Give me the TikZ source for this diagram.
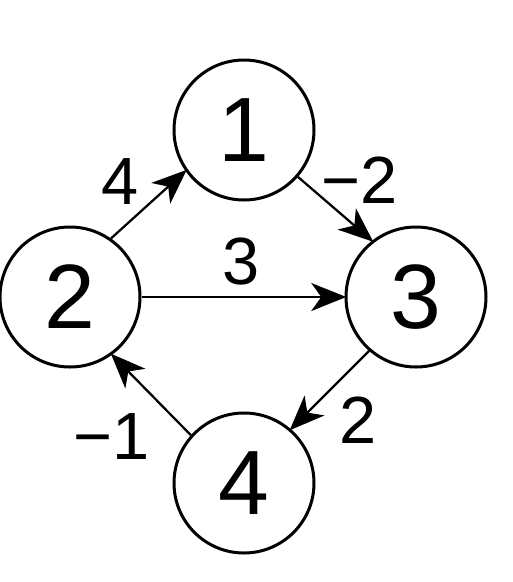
\documentclass[tikz,border=0pt]{standalone}
\usepackage{fontspec}
\setmainfont{Liberation Sans}
\usetikzlibrary{arrows.meta}
\begin{document}
\begin{tikzpicture}[x=0.02cm, y=-0.02cm, >={Stealth[length=0.7cm, width=0.56cm, inset=0.2cm]}]
        % --- SETTINGS ---
        \def\R{70}   % Node radius (px)
        \tikzset{
            vertex/.style={circle, draw, line width=0.06cm, fill=white, minimum size=2*\R*0.02cm, inner sep=0pt, font=\fontsize{52}{54}\selectfont},
            edge/.style={->, line width=0.045cm, shorten >=-1pt},
            weight/.style={font=\fontsize{38}{40}\selectfont}
        }
        \useasboundingbox (0,0) rectangle (512,582);

        % --- VERTICES ---
        \node[vertex] (v1) at (244,130) {1};
        \node[vertex] (v2) at (70,297) {2};
        \node[vertex] (v3) at (416,297) {3};
        \node[vertex] (v4) at (244,483) {4};

        % --- EDGES ---
        \draw[edge] (v2.55) -- (v1.215);
        \draw[edge] (v1.319) -- (v3.128);
        \draw[edge] (v2) -- (v3);
        \draw[edge] (v3.229) -- (v4.49);
        \draw[edge] (v4.138) -- (v2.306);

        % --- WEIGHTS ---
        \node[weight] (w21) at (120,182) {4};
        \node[weight] (w13) at (360,180) {−2};
        \node[weight] (w23) at (241,262) {3};
        \node[weight] (w34) at (358,420) {2};
        \node[weight] (w42) at (112,437) {−1};
    \end{tikzpicture}
\end{document}
